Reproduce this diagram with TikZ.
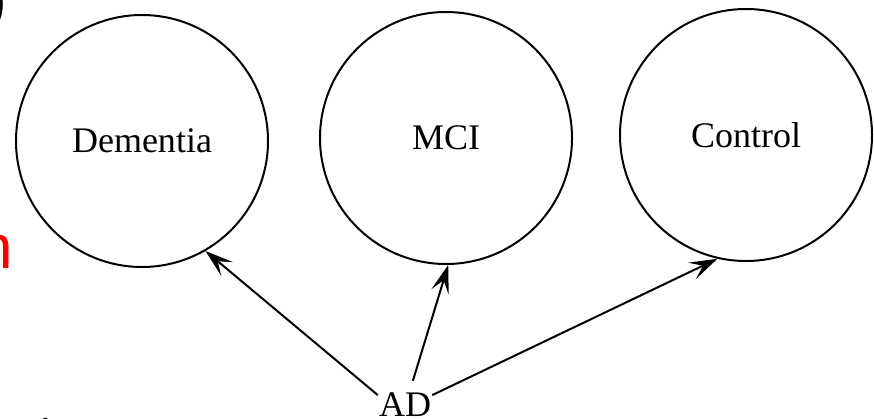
\documentclass[tikz,border=0pt]{standalone}
\usepackage{fontspec}
\setmainfont{Liberation Serif}
\setsansfont{Liberation Sans}
\usetikzlibrary{arrows.meta}
\begin{document}
\begin{tikzpicture}[x=1pt,y=-1pt,
  group/.style={circle,draw,line width=2pt,minimum size=252pt,inner sep=0pt,font=\fontsize{36}{40}\selectfont},
  link/.style={-{Stealth[length=28pt,width=18pt,inset=12pt]},line width=2pt},
  scrap/.style={font=\sffamily\fontsize{62}{70}\selectfont,inner sep=0pt}]
\useasboundingbox (0,0) rectangle (874,418);
\clip (0,0) rectangle (874,418);
\node[group] (dementia) at (142,141) {Dementia};
\node[group] (mci) at (446,138) {MCI};
\node[group] (control) at (746,135) {Control};
\node[font=\fontsize{36}{40}\selectfont,inner xsep=1pt,inner ysep=12pt] (ad) at (405,405) {AD};
\draw[link] (ad.160) -- (dementia.-60);
\draw[link] (ad.72) -- (mci.-89);
\draw[link] (ad.20) -- (control.-103);
\node[scrap,anchor=base east] (paren) at (7,20) {)};
\node[scrap,anchor=base east,red] (letter) at (13,268) {n};
\node[scrap,anchor=base west] (tee) at (37,458) {t};
\end{tikzpicture}
\end{document}
